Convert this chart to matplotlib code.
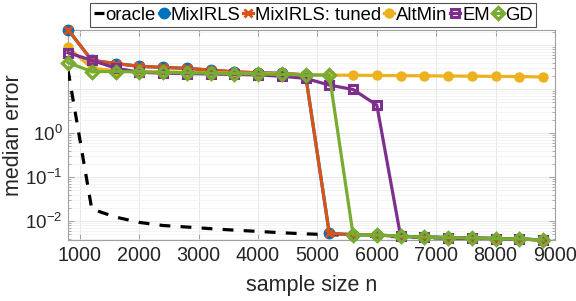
import matplotlib
matplotlib.use("Agg")
import matplotlib.pyplot as plt
from matplotlib.ticker import LogLocator, FixedLocator, NullFormatter
import numpy as np

plt.rcParams['font.family'] = ['Liberation Sans', 'DejaVu Sans']
plt.rcParams['mathtext.default'] = 'regular'

n = [800, 1200, 1600, 2000, 2400, 2800, 3200, 3600, 4000, 4400, 4800,
     5200, 5600, 6000, 6400, 6800, 7200, 7600, 8000, 8400, 8800]

oracle = [27, 0.0187, 0.0123, 0.0093, 0.0079, 0.0073, 0.0067, 0.0062, 0.0058, 0.0054, 0.0051,
          0.0049, 0.0047, 0.0045, 0.0044, 0.0042, 0.0041, 0.0040, 0.0039, 0.0038, 0.0037]
mixirls = [225, 45, 38, 33, 31, 29.5, 27, 24.6, 23.4, 22.7, 21,
           0.0052, 0.0049, 0.0048, 0.0045, 0.0043, 0.0042, 0.0041, 0.0040, 0.0039, 0.0037]
mixirls_tuned = [225, 45, 38, 33, 31, 29.5, 27, 24.6, 23.4, 22.7, 21,
                 0.0052, 0.0049, 0.0048, 0.0045, 0.0043, 0.0042, 0.0041, 0.0040, 0.0039, 0.0037]
altmin = [89, 30, 26, 25, 24.5, 24, 23.5, 23, 22.5, 22, 21.2,
          20.8, 20.6, 20.4, 20.2, 20, 19.8, 19.6, 19.4, 19.2, 18.8]
em = [67, 45, 30, 24, 23, 22.5, 22, 21.5, 21, 19.5, 17.5,
      12.3, 9.8, 4.3, 0.0045, 0.0043, 0.0042, 0.0041, 0.0040, 0.0039, 0.0037]
gd = [40, 25, 25, 24.5, 24, 23.5, 23, 22.5, 22, 21.5, 20.8,
      20.8, 0.0049, 0.0048, 0.0045, 0.0043, 0.0042, 0.0041, 0.0040, 0.0039, 0.0037]

xticks = [1000, 2000, 3000, 4000, 5000, 6000, 7000, 8000, 9000]
yticks = [1e-2, 1e-1, 1e0]

fig = plt.figure(figsize=(5.76, 3.01), dpi=100)
ax = fig.add_axes([68/576, 1-240/301, (555-68)/576, (240-30)/301])

lw = 2.3
ax.plot(n, oracle, color='black', lw=lw, ls=(0, (3.4, 3.2)), label='oracle', zorder=3)
ax.plot(n, mixirls, color='#0072BD', lw=lw, marker='o', ms=7.5, mfc='#0072BD', mec='#0072BD',
        label='MixIRLS', clip_on=False, zorder=4)
ax.plot(n, mixirls_tuned, color='#D95319', lw=lw, marker='x', ms=5.5, mew=2,
        label='MixIRLS: tuned', clip_on=False, zorder=5)
ax.plot(n, altmin, color='#EDB120', lw=lw, marker='o', ms=6.5, mfc='#EDB120', mec='#EDB120',
        label='AltMin', clip_on=False, zorder=6)
ax.plot(n, em, color='#7E2F8E', lw=lw, marker='s', ms=6, mfc='none', mew=2.2,
        label='EM', clip_on=False, zorder=7)
ax.plot(n, gd, color='#77AC30', lw=lw, marker='D', ms=6, mfc='none', mew=2.4,
        label='GD', clip_on=False, zorder=8)

ax.set_yscale('log')
ax.set_xlim(800, 9000)
ax.set_ylim(0.0037, 220)
ax.set_xticks(xticks)
ax.set_xticklabels([str(t) for t in xticks], fontsize=14.2)
ax.yaxis.set_major_locator(FixedLocator(yticks))
ax.set_yticklabels([r'$10^{%d}$' % int(np.log10(t)) for t in yticks], fontsize=13.5)
ax.yaxis.set_minor_locator(LogLocator(base=10, subs=np.arange(2, 10)))
ax.yaxis.set_minor_formatter(NullFormatter())

edge = '#a0a0a0'
for s in ax.spines.values():
    s.set_color(edge)
    s.set_linewidth(0.8)
ax.tick_params(which='both', direction='in', top=True, right=True, color=edge,
               labelcolor='#262626')
ax.tick_params(which='major', length=4, pad=4)
ax.tick_params(which='minor', length=2.5)
for d in [1e1, 1e2]:
    ax.axhline(d, color='#e3e3e3', lw=0.6, zorder=0)

ax.grid(True, which='major', color='#e3e3e3', lw=0.6)
ax.grid(True, which='minor', axis='y', color='#f0f0f0', lw=0.5)
ax.set_axisbelow(True)

fig.text(312/576, 1-286/301, 'sample size n', fontsize=15.5, color='#262626',
         ha='center', va='center')
fig.text(14/576, 1-135/301, 'median error', fontsize=15.5, color='#262626',
         ha='center', va='center', rotation=90)

leg = fig.legend(loc='center', bbox_to_anchor=(313/576, 1-15/301), ncol=6,
                 fontsize=13.3, frameon=True, fancybox=False, edgecolor='#262626',
                 handlelength=0.55, handletextpad=0.1, columnspacing=0.15,
                 borderpad=0.2, borderaxespad=0)
leg.get_frame().set_linewidth(0.8)

fig.savefig('out.png', dpi=100)
